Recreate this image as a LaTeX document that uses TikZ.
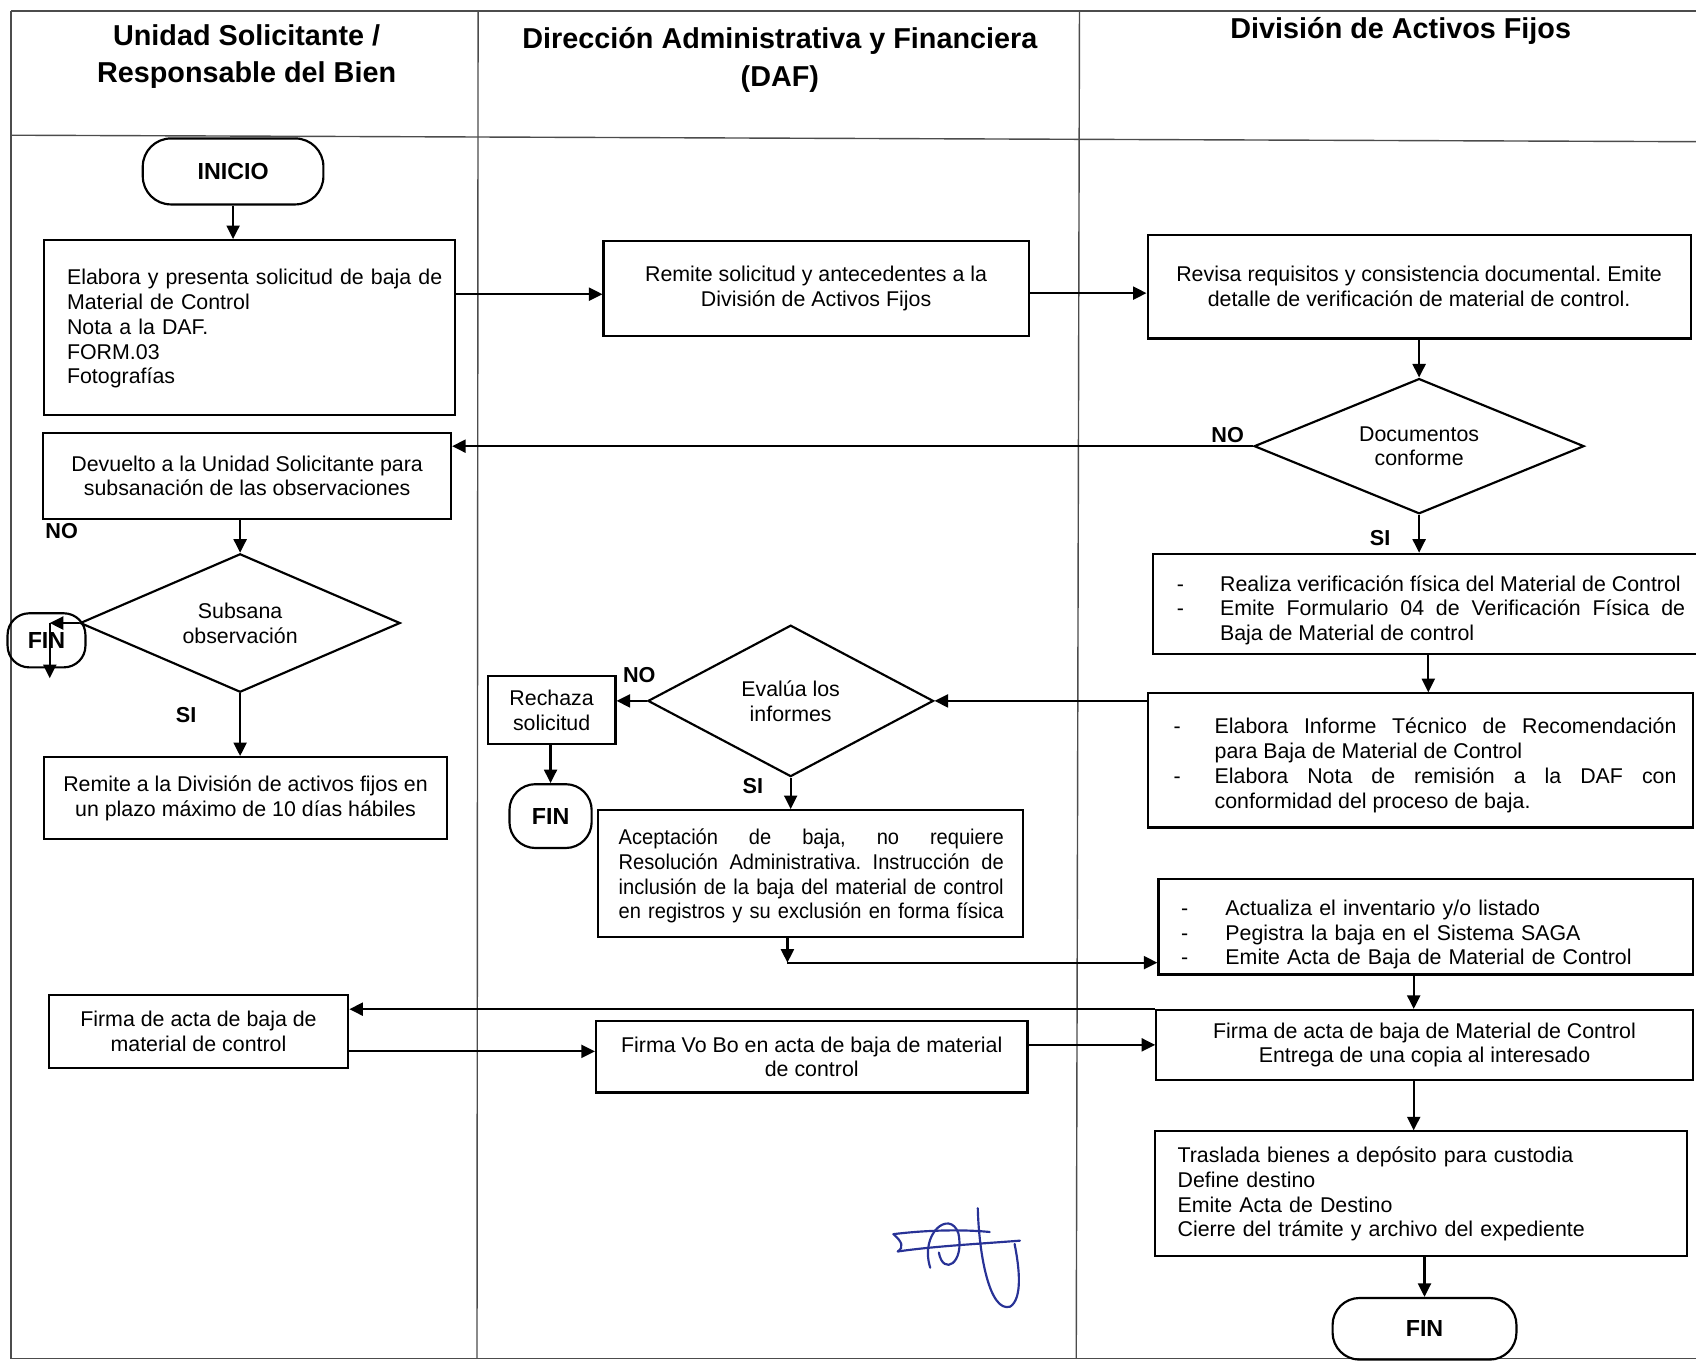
\documentclass[tikz,border=0pt]{standalone}
\usepackage{fontspec}
\setmainfont{Liberation Sans}
\newfontfamily\narrowfont{Liberation Sans}[FakeStretch=0.94]
\usetikzlibrary{shapes.geometric,arrows.meta}
\frenchspacing
\newcommand\bodyfont{\fontsize{19.75}{22.9}\selectfont}
\newcommand\hdrfont{\fontsize{26.6}{34.5}\selectfont\bfseries}
\newcommand\lblfont{\fontsize{20}{22}\selectfont\bfseries}
\newcommand\termfont{\fontsize{21.5}{24}\selectfont\bfseries}
\newcommand\ditem[2]{\par\noindent\hangindent=#1\hangafter=1\makebox[#1][l]{-}#2}
\newcommand\jset{\tolerance=10000\hyphenpenalty=10000\emergencystretch=0pt}
\definecolor{sig}{RGB}{40,50,150}
\definecolor{frame}{gray}{0.3}
\begin{document}
\begin{tikzpicture}[x=1pt,y=-1pt,
  box/.style={draw,line width=2pt,inner sep=0pt,font=\bodyfont,align=center},
  txt/.style={inner sep=0pt,font=\bodyfont},
  term/.style={draw,line width=2pt,inner sep=0pt,font=\termfont,rounded corners=#1},
  dec/.style={draw,diamond,line width=2pt,inner sep=0pt,font=\bodyfont,align=center},
  hdr/.style={font=\hdrfont,align=center,inner sep=0pt},
  lbl/.style={font=\lblfont,inner sep=0pt},
  arr/.style={line width=2pt,-{Triangle[length=12.5pt,width=12pt]}},
  frm/.style={draw=frame,line width=1.3pt}]
\useasboundingbox (0,0) rectangle (1568,1260);
% frame
\draw[frm] (10,10) -- (1568,10);
\draw[frm] (10,125) -- (1568,131);
\draw[frm] (10,10) -- (10,1256);
\draw[frm] (442,10) -- (441,1256);
\draw[frm] (998,10) -- (995,1256);
\draw[frm] (10,1256) -- (1568,1256);
% headers
\node[hdr] (h1) at (228,52.5) {Unidad Solicitante /\\Responsable del Bien};
\node[hdr] (h2) at (721,55.5) {Dirección Administrativa y Financiera\\(DAF)};
\node[hdr] (h3) at (1295,29) {División de Activos Fijos};
% helper coordinates
\coordinate (yAB) at (0,272);
\coordinate (yBC) at (0,271);
\coordinate (yKL) at (0,933);
\coordinate (yLM) at (0,972);
\coordinate (yMK) at (0,966);
\coordinate (vx) at (1307,0);
\coordinate (f1) at (46,576);
\coordinate (f2) at (46,627);
\coordinate (c1) at (728,890);
% column 1
\node[term=26pt,minimum width=167pt,minimum height=61pt] (ini) at (215.5,158.5) {INICIO};
\node[box,minimum width=380pt,minimum height=162pt] (A) at (231,303) {};
\node[txt,text width=350pt,align=left] (At) at (237,304) {Elabora y presenta solicitud de baja de\\Material de Control\\Nota a la DAF.\\FORM.03\\Fotografías};
\node[box,minimum width=377pt,minimum height=80pt] (E) at (228.5,440) {Devuelto a la Unidad Solicitante para\\subsanación de las observaciones};
\node[dec,minimum width=296pt,minimum height=128pt,shape aspect=2.3] (D2) at (222,576) {Subsana\\observación};
\node[term=20pt,minimum width=72pt,minimum height=50pt] (fin1) at (43,592) {FIN};
\node[box,minimum width=372pt,minimum height=76pt] (G) at (227,738) {Remite a la División de activos fijos en\\un plazo máximo de 10 días hábiles};
\node[box,minimum width=277pt,minimum height=67pt] (L) at (183.5,953.5) {Firma de acta de baja de\\material de control};
% column 2
\node[box,minimum width=393pt,minimum height=88pt] (B) at (754.5,267) {Remite solicitud y antecedentes a la\\División de Activos Fijos};
\node[dec,minimum width=264pt,minimum height=140pt,shape aspect=1.9] (D3) at (731,648) {Evalúa los\\informes};
\node[box,minimum width=118pt,minimum height=63pt] (R) at (510,656.5) {Rechaza\\solicitud};
\node[term=24pt,minimum width=76pt,minimum height=59pt] (fin2) at (509,754.5) {FIN};
\node[box,minimum width=393pt,minimum height=117pt] (I) at (749.5,807.5) {};
\node[txt,text width=356pt,align=justify,font=\bodyfont\narrowfont] (It) at (750,810) {\jset\parfillskip=0pt Aceptación de baja, no requiere\linebreak Resolución Administrativa. Instrucción de\linebreak inclusión de la baja del material de control\linebreak en registros y su exclusión en forma física\par};
\node[box,minimum width=399pt,minimum height=66pt] (M) at (750.5,977) {Firma Vo Bo en acta de baja de material\\de control};
% column 3
\node[box,minimum width=502pt,minimum height=96pt] (C) at (1312,265) {Revisa requisitos y consistencia documental. Emite\\detalle de verificación de material de control.};
\node[dec,minimum width=305pt,minimum height=125pt,shape aspect=2.44] (D1) at (1312,412.5) {Documentos\\conforme};
\node[box,minimum width=509pt,minimum height=93pt] (F) at (1320.5,558.5) {};
\node[txt,text width=470pt,align=justify] (Ft) at (1323,560) {\jset
\ditem{40pt}{Realiza verificación física del Material de Control}
\ditem{40pt}{Emite Formulario 04 de Verificación Física de\linebreak Baja de Material de control}\par};
\node[box,minimum width=504pt,minimum height=124pt] (H) at (1313,703) {};
\node[txt,text width=465pt,align=justify] (Ht) at (1317.5,703.5) {\jset
\ditem{38pt}{Elabora Informe Técnico de Recomendación\linebreak para Baja de Material de Control}
\ditem{38pt}{Elabora Nota de remisión a la DAF con\linebreak conformidad del proceso de baja.}\par};
\node[box,minimum width=494pt,minimum height=88pt] (J) at (1318,857) {};
\node[txt,text width=420pt,align=left] (Jt) at (1302,859.7) {\ditem{41pt}{Actualiza el inventario y/o listado}
\ditem{41pt}{Pegistra la baja en el Sistema SAGA}
\ditem{41pt}{Emite Acta de Baja de Material de Control}\par};
\node[box,minimum width=496pt,minimum height=64.5pt] (K) at (1317,966) {Firma de acta de baja de Material de Control\\Entrega de una copia al interesado};
\node[box,minimum width=492pt,minimum height=115.5pt] (N) at (1314,1103.75) {};
\node[txt,text width=380pt,align=left] (Nt) at (1278.7,1104) {Traslada bienes a depósito para custodia\\Define destino\\Emite Acta de Destino\\Cierre del trámite y archivo del expediente};
\node[term=25pt,minimum width=170pt,minimum height=57pt] (fin3) at (1317,1228.5) {FIN};
% labels
\node[lbl] (no1) at (1135,402) {NO};
\node[lbl] (si1) at (1276,497) {SI};
\node[lbl] (no2) at (57,491) {NO};
\node[lbl] (si2) at (172,661) {SI};
\node[lbl] (no3) at (591,624) {NO};
\node[lbl] (si3) at (696,727) {SI};
% connectors
\draw[arr] (ini.south) -- (ini.south |- A.north);
\draw[arr] (A.east |- yAB) -- (B.west |- yAB);
\draw[arr] (B.east |- yBC) -- (C.west |- yBC);
\draw[arr] (C.south) -- (D1.north);
\draw[arr] (D1.west) -- (E.east |- D1.west);
\draw[arr] (D2.north |- E.south) -- (D2.north);
\draw[arr] (D2.west) -- (f1);
\draw[arr] (f1) -- (f2);
\draw[arr] (D2.south) -- (D2.south |- G.north);
\draw[arr] (D1.south) -- (D1.south |- F.north);
\draw[arr] (F.south) -- (F.south |- H.north);
\draw[arr] (H.west |- D3.east) -- (D3.east);
\draw[arr] (D3.west) -- (R.east |- D3.west);
\draw[arr] (fin2.north |- R.south) -- (fin2.north);
\draw[arr] (D3.south) -- (D3.south |- I.north);
\draw[arr] (I.south -| c1) -- (c1);
\draw[arr] (c1) -- (J.west |- c1);
\draw[arr] (J.south -| vx) -- (K.north -| vx);
\draw[arr] (K.west |- yKL) -- (L.east |- yKL);
\draw[arr] (L.east |- yLM) -- (M.west |- yLM);
\draw[arr] (M.east |- yMK) -- (K.west |- yMK);
\draw[arr] (K.south -| vx) -- (N.north -| vx);
\draw[arr] (N.south -| fin3.north) -- (fin3.north);
% signature
\begin{scope}[draw=sig,line width=2pt,line cap=round]
\draw (826,1141) .. controls (850,1138) and (885,1136) .. (915,1139);
\draw (826,1141) .. controls (834,1148) and (836,1153) .. (830,1157);
\draw (830,1157) .. controls (865,1152) and (905,1150) .. (943,1147);
\draw (860,1172) .. controls (850,1140) and (878,1118) .. (886,1140) .. controls (892,1168) and (872,1180) .. (868,1158);
\draw (904,1117) .. controls (905,1160) and (915,1214) .. (934,1208) .. controls (946,1200) and (942,1170) .. (938,1150);
\end{scope}
\end{tikzpicture}
\end{document}
